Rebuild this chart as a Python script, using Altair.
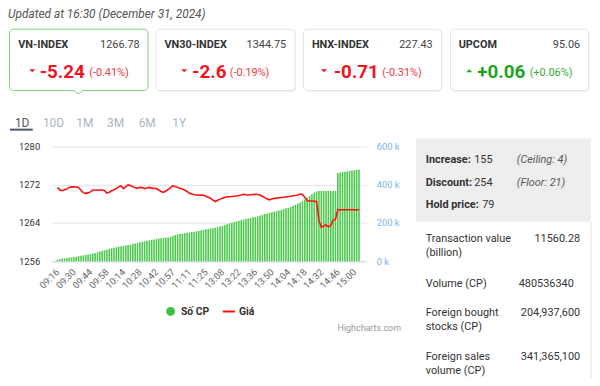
import json
import altair as alt
import pandas as pd

# ---------------- data ----------------
TIME_LABELS = ["09:16", "09:30", "09:44", "09:58", "10:14", "10:28", "10:42", "10:57",
               "11:11", "11:25", "13:08", "13:22", "13:36", "13:50", "14:04", "14:18",
               "14:32", "14:46", "15:00"]

VOLUME_K = [8, 11, 14, 15, 17, 19, 21, 22, 24, 27,
            29, 31, 33, 35, 38, 41, 44, 47, 51, 54,
            58, 61, 65, 68, 71, 74, 77, 79, 81, 83,
            85, 87, 90, 93, 96, 99, 102, 104, 107, 110,
            112, 114, 116, 119, 121, 122, 124, 125, 127, 132,
            137, 141, 143, 145, 147, 149, 150, 153, 155, 157,
            159, 162, 164, 167, 169, 171, 173, 176, 178, 182,
            186, 189, 193, 197, 201, 205, 209, 212, 215, 218,
            221, 224, 227, 230, 232, 235, 239, 243, 247, 250,
            253, 256, 259, 262, 266, 269, 273, 277, 280, 284,
            289, 295, 301, 306, 314, 322, 332, 341, 351, 359,
            365, 368, 368, 368, 368, 368, 368, 368, 368, 462,
            464, 466, 468, 470, 472, 474, 476, 477, 478]

PRICE = [1271.45, 1270.9, 1270.75, 1270.96, 1271.1, 1271.45, 1271.55, 1271.58, 1271.5, 1271.45,
         1270.8, 1270.35, 1270.21, 1270.3, 1270.5, 1270.9, 1270.9, 1270.85, 1270.9, 1270.9,
         1270.75, 1270.25, 1270.45, 1270.75, 1270.95, 1271.2, 1271.6, 1271.75, 1271.2, 1271.6,
         1272.0, 1271.85, 1271.6, 1271.4, 1271.25, 1271.45, 1271.4, 1271.2, 1271.3, 1271.45,
         1271.3, 1271.25, 1271.2, 1270.9, 1270.6, 1270.4, 1270.7, 1271.0, 1271.4, 1271.8,
         1271.6, 1271.45, 1271.25, 1271.1, 1270.9, 1270.6, 1270.2, 1270.05, 1269.9, 1269.86,
         1269.8, 1269.86, 1269.8, 1269.6, 1269.4, 1269.2, 1268.8, 1268.5, 1268.75, 1269.0,
         1269.2, 1269.35, 1269.5, 1269.5, 1269.55, 1269.6, 1269.65, 1269.75, 1269.85, 1270.0,
         1269.9, 1269.85, 1269.9, 1269.95, 1270.0, 1269.95, 1269.85, 1269.6, 1269.3, 1269.0,
         1268.85, 1269.0, 1269.15, 1269.2, 1269.3, 1269.35, 1269.4, 1269.45, 1269.55, 1269.6,
         1269.7, 1269.75, 1269.85, 1270.05, 1269.95, 1269.4, 1268.65, 1268.6, 1268.6, 1268.55,
         1268.5, 1264.5, 1263.1, 1263.4, 1263.6, 1263.2, 1263.5, 1264.55, 1264.8, 1266.76,
         1266.76, 1266.76, 1266.76, 1266.76, 1266.76, 1266.76, 1266.76, 1266.76, 1266.76]

PRICE_TICKS = [1256, 1264, 1272, 1280]
VOLUME_TICKS = [0, 200, 400, 600]

CARDS = [  # name, index value, change, percent
    ("VN-INDEX", "1266.78", "-5.24", "(-0.41%)"),
    ("VN30-INDEX", "1344.75", "-2.6", "(-0.19%)"),
    ("HNX-INDEX", "227.43", "-0.71", "(-0.31%)"),
    ("UPCOM", "95.06", "+0.06", "(+0.06%)"),
]
TABS = ["1D", "10D", "1M", "3M", "6M", "1Y"]
BREADTH = [("Increase:", "155", "(Ceiling: 4)"), ("Discount:", "254", "(Floor: 21)"),
           ("Hold price:", "79", "")]
STATS = [(["Transaction value", "(billion)"], "11560.28"),
         (["Volume (CP)"], "480536340"),
         (["Foreign bought", "stocks (CP)"], "204,937,600"),
         (["Foreign sales", "volume (CP)"], "341,365,100")]

df = pd.DataFrame({"i": list(range(len(VOLUME_K))), "vol": VOLUME_K, "price": PRICE})
ONE = pd.DataFrame({"k": [0]})

# plot-area origin on the page (page margin 8 + padding)
OX, OY = 52, 146
FONT = "Roboto"
RED = "#f0141e"
RED_LIGHT = "#f2383f"
GREEN = "#1ea51e"
GREEN_LIGHT = "#34ac34"


def T(s, ax, ay, size=11, color="#333333", weight="normal", style="normal", align="left"):
    return alt.Chart(ONE).mark_text(font=FONT, fontSize=size, color=color, fontWeight=weight,
                                    fontStyle=style, align=align, baseline="middle").encode(
        x=alt.value(ax - OX), y=alt.value(ay - OY), text=alt.value(s))


def R(x1, y1, x2, y2, fill, stroke=None, sw=1, cr=0):
    kw = dict(fill=fill, cornerRadius=cr)
    if stroke:
        kw.update(stroke=stroke, strokeWidth=sw)
    return alt.Chart(ONE).mark_rect(**kw).encode(
        x=alt.value(x1 - OX), x2=alt.value(x2 - OX), y=alt.value(y1 - OY), y2=alt.value(y2 - OY))


def L(x1, y1, x2, y2, color, sw=1):
    return alt.Chart(ONE).mark_rule(color=color, strokeWidth=sw).encode(
        x=alt.value(x1 - OX), x2=alt.value(x2 - OX), y=alt.value(y1 - OY), y2=alt.value(y2 - OY))


def P(ax, ay, shape, size, fill, stroke=None, sw=1):
    kw = dict(shape=shape, size=size, fill=fill, filled=True, opacity=1)
    if stroke:
        kw.update(stroke=stroke, strokeWidth=sw)
    return alt.Chart(ONE).mark_point(**kw).encode(x=alt.value(ax - OX), y=alt.value(ay - OY))


DOWN = "M -1 -0.5 L 0 0.5 L 1 -0.5 Z"
UP = "M -1 0.5 L 0 -0.5 L 1 0.5 Z"

layers = []

# ---- cards ----
card_x = [(9.5, 149.5), (157.5, 298), (306.5, 446), (455, 594.5)]
for k, ((x1, x2), (name, val, chg, pct)) in enumerate(zip(card_x, CARDS)):
    if k > 0:
        layers.append(R(x1 + 1, 29, x2 + 1, 91, "#f2f2f2", cr=4))
    layers.append(R(x1, 27.5, x2, 89.5, "white", "#86cc86" if k == 0 else "#e3e3e3", 1, 4))
layers.append(P(79, 89.0, "M -1 0 L 0 0.8 L 1 0", 100, "white", "#86cc86", 1))

# ---- chart ----
x_enc = alt.X("i:Q", scale=alt.Scale(domain=[-0.4, 129], nice=False, zero=False),
              axis=alt.Axis(values=list(range(0, 127, 7)),
                            labelExpr=json.dumps(TIME_LABELS) + "[round(datum.value / 7)]",
                            labelAngle=-45, labelAlign="right", labelBaseline="middle",
                            labelPadding=9, labelOverlap=False, labelBound=False,
                            ticks=False, tickSize=0, grid=False,
                            domainColor="#ccd6eb", labelColor="#666666", labelFontSize=9.5,
                            labelFont=FONT, title=None))

bars = alt.Chart(df).mark_bar(color="#4cc94c", size=1.6).encode(
    x=x_enc,
    y=alt.Y("vol:Q", scale=alt.Scale(domain=[0, 600], nice=False),
            axis=alt.Axis(orient="right", values=VOLUME_TICKS, labelExpr="datum.value + ' k'",
                          grid=False, domain=False, ticks=False, tickSize=0, labelPadding=10,
                          labelColor="#7cb5ec", labelFontSize=9.5, labelFont=FONT, title=None)))

line = alt.Chart(df).mark_line(color="#ff1010", strokeWidth=1.6).encode(
    x=x_enc,
    y=alt.Y("price:Q", scale=alt.Scale(domain=[1256, 1280], nice=False, zero=False),
            axis=alt.Axis(orient="left", values=PRICE_TICKS, format="d", grid=True,
                          gridColor="#e6e6e6", domain=False, ticks=False, tickSize=0,
                          labelPadding=12, labelColor="#333333", labelFontSize=9.5,
                          labelFont=FONT, title=None)))

layers += [bars, line]

# ---- card texts ----
name_x = [18.3, 166, 315, 463.3]
val_r = [141, 289, 437, 586]
tri_x = [32.5, 186, 327.3, 474]
chg_x = [40, 194, 337, 482]
pct_x = [90, 232, 386, 535]
for k, (name, val, chg, pct) in enumerate(CARDS):
    up = chg.startswith("+")
    col = GREEN if up else RED
    layers.append(T(name, name_x[k], 43.5, 11, "#333333", "bold"))
    layers.append(T(val, val_r[k], 43.5, 11, "#444444", align="right"))
    layers.append(P(tri_x[k], 69.5, UP if up else DOWN, 36, col))
    layers.append(T(chg, chg_x[k], 71, 19, col, "bold"))
    layers.append(T(pct, pct_x[k], 72, 11, GREEN_LIGHT if up else RED_LIGHT))

layers.append(T("Updated at 16:30 (December 31, 2024)", 8, 12.5, 12, "#555555", style="italic"))

# ---- tabs ----
tab_x = [15, 43.3, 77, 108, 140, 174]
for k, t in enumerate(TABS):
    layers.append(T(t, tab_x[k], 122.7, 12, "#4d5566" if k == 0 else "#aab4c3"))
layers.append(L(10, 129, 33, 129, "#4d5a6e", 2))

# ---- legend & credit ----
layers.append(P(172.3, 312.7, "circle", 80, "#3cc13c"))
layers.append(T("Số CP", 182.7, 313, 10.5, "#333333", "bold"))
layers.append(L(225, 312.7, 237.3, 312.7, "#ff1010", 2))
layers.append(T("Giá", 241.3, 313, 10.5, "#333333", "bold"))
layers.append(T("Highcharts.com", 405, 329.3, 9, "#999999", align="right"))

# ---- right panel ----
layers.append(R(420, 138, 597, 222, "#eeeeee"))
layers.append(L(597, 222, 597, 380, "#e6e6e6", 1))
b_y = [159.3, 182.5, 205.3]
b_num_x = [479, 479, 487]
for k, (lab, num, extra) in enumerate(BREADTH):
    layers.append(T(lab, 430, b_y[k], 11, "#333333", "bold"))
    layers.append(T(num, b_num_x[k], b_y[k], 11, "#333333"))
    if extra:
        layers.append(T(extra, 522, b_y[k], 11, "#555555", style="italic"))

s_y = [240, 285, 314.3, 358.5]
for k, (labs, num) in enumerate(STATS):
    for j, lab in enumerate(labs):
        layers.append(T(lab, 430, s_y[k] + 14 * j, 11, "#333333"))
    if num == "480536340":
        layers.append(T(num, 524, s_y[k], 11, "#333333"))
    else:
        layers.append(T(num, 586, s_y[k], 11, "#333333", align="right"))

chart = alt.layer(*layers).resolve_scale(y="independent").properties(
    width=318, height=116,
    padding={"left": 44, "top": 138, "right": 228, "bottom": 117},
    autosize=alt.AutoSizeParams(type="none"),
    background="white",
).configure_view(stroke=None)

chart.save("out.html", embed_options={"renderer": "svg", "actions": False})
